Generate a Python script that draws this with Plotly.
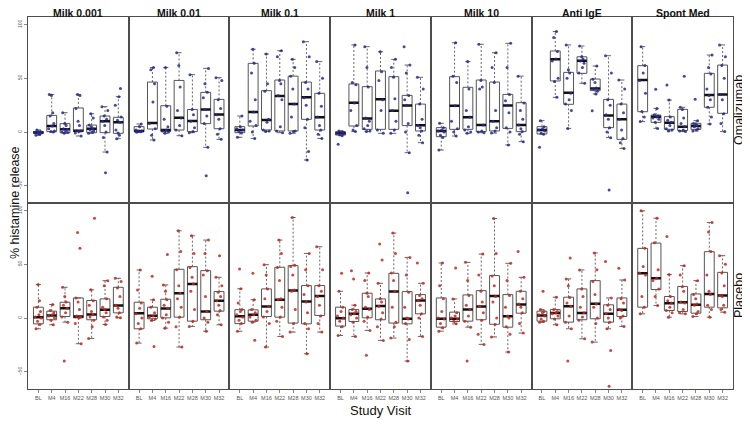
import plotly.graph_objects as go
from plotly.subplots import make_subplots

stimuli = ["Milk 0.001", "Milk 0.01", "Milk 0.1", "Milk 1", "Milk 10", "Anti IgE", "Spont Med"]
visits = ["BL", "M4", "M16", "M22", "M28", "M30", "M32"]
groups = ["Omalizumab", "Placebo"]

# box statistics, one row per stimulus, one value per visit (% histamine release)
oma_lower = [
    [-3, 0, -1.2, -3.7, -1.2, -18.6, -6.2],
    [-0.3, -7.4, -1.2, -3.4, -0.6, -14.2, -6.8],
    [-4.9, -5.9, 0.4, -0.6, -1.2, -26, -5.9],
    [-3.4, 0.4, 0.4, -1.2, -1.2, -19.2, -9.9],
    [-16.7, -3.7, -1.2, -0.6, -1, -12, -9],
    [-2, 32.3, 3.4, 45.3, 35.4, -5.2, -15.2],
    [9.7, 3.4, 1, 0.4, 1, 7.5, 0.4],
]
oma_q1 = [
    [-1.5, 0.4, -0.6, 0.4, -0.6, -0.6, -1.2],
    [0.4, 2.8, 0.4, 1.9, 0.4, 7.8, 3.1],
    [-0.6, 5.6, 1.9, 1, 1, 11.8, 1.9],
    [-2.8, 5.6, 2.5, 2.5, 2.5, 6, 1],
    [-4.3, 2.5, 2.5, 0.4, 1, 3.4, 0.4],
    [-1.8, 47.5, 25.8, 54.6, 38.5, 4.1, -6.8],
    [18.9, 9, 2.5, 1.3, 2.5, 23, 17.4],
]
oma_median = [
    [-0.5, 5.6, 2.5, 1.3, 3.1, 10, 9],
    [1, 8.4, 1.9, 13.4, 10.3, 21, 16.2],
    [1.9, 18.6, 11.2, 33.5, 26, 32.3, 13.7],
    [-1.2, 27.3, 12.7, 30.4, 19.9, 24.8, 6.2],
    [1, 24.5, 13.7, 6.5, 10, 24.8, 6.5],
    [1.9, 67.6, 36.6, 66.4, 40.6, 15.5, 11.8],
    [48.4, 14.3, 8.7, 5, 5.6, 34.5, 35],
]
oma_q3 = [
    [0.5, 15.5, 7.8, 22.4, 6.5, 14.9, 13.7],
    [5, 46.5, 24.5, 48, 21, 36.9, 30.4],
    [5, 63.9, 38.5, 48.4, 52, 46.5, 36],
    [0.4, 44.7, 42.2, 56.8, 51.5, 34.1, 26],
    [4.1, 51.5, 41.6, 48.4, 46.5, 35, 27.3],
    [5, 75.4, 55.5, 70, 49.3, 30.4, 26],
    [61.7, 15.8, 14.3, 21.1, 8.1, 54.6, 62.3],
]
oma_upper = [
    [2, 35, 18, 35, 17, 23.6, 32.9],
    [7.5, 60, 60, 73.8, 53.4, 59.2, 50.6],
    [14.9, 77, 72.6, 75.7, 67.6, 84, 65.5],
    [1, 81, 79.4, 74.7, 67.6, 62.3, 50.9],
    [8.1, 83.1, 65.5, 81.6, 73.8, 82.5, 52],
    [10.6, 93.4, 81, 80, 61.4, 71, 48.4],
    [79.4, 22, 29.8, 23, 10.6, 71.6, 81],
]

pla_lower = [
    [-10, -6.3, -3.8, -23.9, -19, -6, 0.2],
    [-23.3, -2.3, -9.4, -27, -7.8, -12.2, -6.3],
    [-12.3, -3.8, -27, -17.1, -13.1, -33.2, -13.1],
    [-16.2, -17.1, -11.5, -20.8, -18.6, -40, -17.1],
    [-12.2, -5.4, -8.5, -24.5, -17.6, -31.6, -14],
    [-4, -6.3, -10, -19.3, -22.4, -10, -7.8],
    [3.9, 11.6, 0.8, 3.9, 1.4, 0.8, 5.5],
]
pla_q1 = [
    [-5.4, -1.6, 1.4, 0.2, -1.6, 1.4, 4.8],
    [-10, -0.7, 0.2, 0.8, -2.9, -1.6, 6.4],
    [-5.2, -2.9, 1.4, 0.8, -4.7, -5.4, 2.4],
    [-7.5, -3.2, 0.2, -1.6, -4.7, -5.4, 3.9],
    [-8.5, -3.2, -2.9, -1.6, -5.8, -8.5, 4.5],
    [-2.9, -0.7, -3.8, -1.6, -0.7, -3.8, 1.4],
    [10.1, 26.5, 7, 6.1, 4.5, 10.1, 9.5],
]
pla_median = [
    [0.8, 2.4, 9.2, 1.4, 3.3, 7.6, 11.6],
    [4.5, 2.1, 8.9, 23.1, 31.7, 6.1, 16],
    [1.6, 3.1, 10.7, 16.9, 25.5, 15.3, 20.6],
    [-0.1, 3.9, 8.6, 11.3, 24.6, -0.7, 16.3],
    [-0.7, -0.7, 7.9, 10.7, 20.4, 1.7, 12.6],
    [2.4, 4.8, 11, 4.8, 13.2, 3.9, 7.6],
    [41.6, 37, 13.8, 14.7, 12.3, 22.4, 20.9],
]
pla_q3 = [
    [10.1, 6.4, 14.7, 18.7, 16.3, 17.8, 28.6],
    [14.7, 10.1, 17.5, 45.3, 47.8, 44.1, 24.6],
    [7.8, 7.6, 27.1, 47.2, 48.7, 30.2, 30.2],
    [10.1, 7.9, 23.1, 17.8, 41.6, 24.6, 21.8],
    [18.7, 5.5, 21.5, 25.5, 39.5, 21.8, 24.9],
    [6.4, 7.9, 19.4, 27.1, 34.8, 12.3, 18.7],
    [64.8, 69.7, 20, 29.3, 22.4, 61.7, 42.5],
]
pla_upper = [
    [31.1, 12.6, 28.6, 18.7, 26.2, 34.8, 37],
    [44.7, 16.9, 30.8, 81.2, 76.5, 72.5, 37.9],
    [27.2, 17, 49.6, 72.5, 93.5, 60.1, 66.3],
    [24.9, 12, 41.9, 32.3, 79, 56.4, 32.3],
    [51.2, 17.8, 51.8, 59.5, 92.6, 50.9, 37.9],
    [8, 19.4, 36.4, 44.7, 60.5, 18.7, 35.4],
    [99.7, 92.9, 40.4, 48.7, 34.8, 88.9, 58],
]

# individual subjects, per stimulus and visit
oma_points = [
    [[-3, -1.5, -1, -0.5, -0.5, 0, 0.5, 2, -2],
     [0, 0.5, 1, 3, 5.6, 8, 15, 18, 34, 35],
     [-1.2, -0.5, 0, 1, 2.5, 3, 6, 8, 18],
     [-3.7, -1, 0.5, 1, 1.3, 6, 10, 22, 34, 35],
     [-1.2, 0, 1, 2, 3, 5, 6.5, 13, 17],
     [-37.8, -18.6, -5, 0, 6, 10, 12, 15, 20, 23.6],
     [40.6, -6.2, -3, -1, 2, 9, 11, 14, 25, 32.9]],
    [[-0.3, 0.3, 0.8, 1, 2, 5, 7.5],
     [-7.4, -3, 3, 8, 28, 45, 58, 60],
     [-1.2, 0, 1, 2, 5, 12, 24, 60],
     [-3.4, 2, 6, 13, 20, 42, 62, 73.8],
     [-0.6, 0.5, 4, 10, 16, 21, 53.4],
     [-40.6, -14.2, 8, 15, 21, 32, 37, 45, 59.2],
     [-6.8, -2, 3, 12, 16, 22, 30, 48, 50.6]],
    [[-4.9, -1, 0.5, 2, 3, 5, 14.9],
     [-5.9, 0, 6, 10, 18.6, 30, 55, 64, 77],
     [0.4, 1, 2, 9, 12, 38, 45, 72.6],
     [-0.6, 1, 5, 30, 34, 45, 48, 70, 75.7],
     [-1.2, 0.5, 1, 14, 26, 40, 52, 60, 67.6],
     [-26, -18, 4, 12, 25, 32, 40, 46, 70, 84],
     [-5.9, -2, 2, 6, 14, 24, 36, 50, 65.5]],
    [[-11.4, -3.4, -2.5, -1.5, -1, 0, 0.3, 1],
     [0.4, 2, 6, 20, 27, 44, 46, 81],
     [0.4, 1, 3, 6, 10, 13, 42, 60, 79.4],
     [-1.2, 2, 20, 30, 48, 56, 74.7],
     [-1.2, 2, 10, 20, 31, 51, 60, 67.6],
     [-56.4, -19.2, 0, 8, 25, 30, 34, 55, 62.3, 79.4],
     [-9.9, -3, 1, 4, 6, 12, 26, 40, 50.9]],
    [[-16.7, -5, -3, 0, 1, 2, 4, 8.1],
     [-3.7, 0, 3, 10, 24.5, 46, 52, 83.1],
     [-1.2, 0, 2, 5, 14, 20, 40, 65.5],
     [-0.6, 0, 1, 6.5, 40, 42, 48, 81.6],
     [-1, 1, 4, 10, 20, 46, 60, 73.8],
     [-12, 0, 4, 18, 25, 29, 35, 60, 82.5],
     [-9, -2, 0.5, 3, 6.5, 12, 20, 27, 52]],
    [[-14.2, -2, -1, 1, 2, 3, 5, 10.6],
     [32.3, 47, 50, 66, 68, 75, 88, 93.4],
     [3.4, 20, 26, 30, 36, 50, 55, 58, 81],
     [45.3, 55, 60, 64, 66, 68, 70, 80],
     [19.9, 35.4, 38, 40, 41, 46, 49, 61.4],
     [-53.9, -5.2, 0, 4, 12, 16, 25, 30, 55, 71],
     [-15.2, -10, -6, 2, 12, 18, 26, 40, 48.4]],
    [[9.7, 14, 19, 36, 48, 55, 62, 79.4],
     [3.4, 9, 12, 13, 14, 15, 16, 22, 39.7],
     [1, 2, 3, 6, 9, 11, 14, 29.8, 43.8],
     [0.4, 1, 2, 5, 8, 13, 21, 23, 52],
     [1, 2, 3, 5, 6, 7, 8, 10.6, 30.4],
     [7.5, 14, 23, 30, 34, 40, 54, 60, 71.6],
     [0.4, 8, 17, 30, 35, 50, 62, 70, 81]],
]
pla_points = [
    [[-10, -6, -3, 0, 1, 3, 6, 10, 16, 31.1],
     [-6.3, -2, 0, 2, 3, 5, 7, 12.6],
     [-40, -3.8, 1, 5, 9, 12, 15, 20, 28.6],
     [-23.9, -5, 0, 1, 2, 8, 15, 18.7, 64.8, 79.6],
     [-19, -8, -2, 1, 3, 6, 12, 16, 26.2, 92.9],
     [-6, -2, 1, 5, 8, 10, 18, 30, 34.8],
     [0.2, 1, 5, 9, 12, 20, 28, 34, 37]],
    [[-23.3, -10, -5, 0, 4, 9, 14, 26, 44.7],
     [-26.4, -2.3, -1, 1, 2, 5, 10, 16.9, 38.8],
     [-9.4, -4, 0, 3, 9, 12, 17, 25, 30.8, 59.2],
     [-27, -8, 1, 10, 18, 23, 30, 45, 62, 81.2],
     [-7.8, -3, 8, 25, 32, 38, 47, 60, 76.5],
     [-12.2, -4, 0, 6, 20, 40, 44, 60, 72.5],
     [-6.3, 3, 7, 12, 16, 20, 24, 30, 37.9, 58]],
    [[-12.3, -5, -2, 1, 3, 6, 8, 14, 27.2, 45.7],
     [-20.6, -3.8, -2, 1, 3, 5, 8, 17, 41.7],
     [-27, -5, 1, 6, 11, 18, 27, 40, 49.6],
     [-17.1, -3, 1, 10, 17, 18, 35, 47, 60, 72.5],
     [-13.1, -5, 8, 25, 26, 40, 48, 49, 93.5],
     [-33.2, -10, -5, 5, 15, 22, 30, 45, 60.1],
     [-13.1, -5, 2, 12, 20, 25, 30, 45, 66.3]],
    [[-16.2, -8, -3, 0, 2, 6, 10, 24.9, 41.6],
     [-17.1, -4, 0, 3, 4, 6, 8, 12, 36.4, 44.1],
     [-34.7, -11.5, -3, 1, 8, 10, 20, 23, 35, 41.9],
     [-20.8, -8, -1, 5, 11, 15, 18, 32.3, 54, 68.8],
     [-18.6, -8, -4, 10, 25, 35, 42, 60, 79],
     [-40, -20, -5, -1, 0, 10, 24, 40, 56.4],
     [-17.1, 0, 4, 12, 16, 18, 21, 32.3, 51.2]],
    [[-12.2, -9, -5, -1, 0, 6, 18, 30, 51.2],
     [-5.4, -3, -1, 0, 2, 5, 17.8, 46.5],
     [-40, -8.5, -3, 2, 8, 12, 21, 35, 51.8],
     [-24.5, -15, -2, 5, 11, 15, 25, 40, 59.5],
     [-17.6, -6, 0, 15, 20, 30, 39, 60, 92.6],
     [-31.6, -15, -8, 0, 2, 10, 21, 35, 50.9],
     [-14, -5, 5, 10, 13, 18, 25, 37.9, 62]],
    [[-4, -3, -1, 2, 3, 5, 6, 8, 24.9],
     [-6.3, -1, 2, 4, 5, 6, 8, 19.4],
     [-40, -10, -4, 2, 11, 14, 19, 30, 36.4, 55.8],
     [-19.3, -2, 1, 5, 10, 20, 27, 44.7],
     [-22.4, -5, 0, 10, 13, 22, 34, 45, 60.5],
     [-63.5, -30.1, -10, -4, 0, 4, 8, 12, 18.7, 52.7],
     [-7.8, 0, 2, 7, 8, 14, 18, 35.4, 46.2]],
    [[3.9, 10, 20, 40, 42, 48, 65, 99.7],
     [11.6, 20, 27, 35, 37, 45, 70, 92.9],
     [0.8, 5, 7, 10, 14, 16, 20, 40.4, 75.9],
     [3.9, 5, 8, 14, 15, 25, 29, 40, 48.7],
     [1.4, 4, 6, 12, 13, 18, 22, 34.8],
     [0.8, 8, 12, 22, 25, 40, 62, 80, 88.9],
     [5.5, 8, 12, 20, 21, 30, 42, 50, 58]],
]

BOX_HALF = 0.37
CAP_HALF = 0.19
JITTER = [-0.18, 0.12, -0.06, 0.21, -0.23, 0.04, 0.16, -0.12, 0.08, -0.02]
FONT = "Liberation Sans, Arial, sans-serif"
FRAME = "#4d4d4d"
# the page body keeps its default 8px margin, so the figure is drawn 8px smaller
PAGE_OFFSET = 8

group_data = [
    (oma_lower, oma_q1, oma_median, oma_q3, oma_upper, oma_points, "#262a8c"),
    (pla_lower, pla_q1, pla_median, pla_q3, pla_upper, pla_points, "#c0281e"),
]

fig = make_subplots(rows=2, cols=7, horizontal_spacing=0, vertical_spacing=0)

for r, (lo, q1, med, q3, hi, pts, colour) in enumerate(group_data):
    for c in range(len(stimuli)):
        wx, wy, cx, cy, bx, by, mx, my, px, py = [], [], [], [], [], [], [], [], [], []
        for i in range(len(visits)):
            x = i + 1
            wx += [x, x, None, x, x, None]
            wy += [q3[c][i], hi[c][i], None, q1[c][i], lo[c][i], None]
            cx += [x - CAP_HALF, x + CAP_HALF, None, x - CAP_HALF, x + CAP_HALF, None]
            cy += [hi[c][i], hi[c][i], None, lo[c][i], lo[c][i], None]
            bx += [x - BOX_HALF, x + BOX_HALF, x + BOX_HALF, x - BOX_HALF, x - BOX_HALF, None]
            by += [q1[c][i], q1[c][i], q3[c][i], q3[c][i], q1[c][i], None]
            mx += [x - BOX_HALF, x + BOX_HALF, None]
            my += [med[c][i], med[c][i], None]
            for k, v in enumerate(pts[c][i]):
                px.append(x + JITTER[(k + i) % len(JITTER)])
                py.append(v)
        row, col = r + 1, c + 1
        fig.add_trace(go.Scatter(x=wx, y=wy, mode="lines", hoverinfo="skip",
                                 line=dict(color="#666666", width=1, dash="2px,2px")), row=row, col=col)
        fig.add_trace(go.Scatter(x=cx, y=cy, mode="lines", hoverinfo="skip",
                                 line=dict(color="#666666", width=1)), row=row, col=col)
        fig.add_trace(go.Scatter(x=bx, y=by, mode="lines", hoverinfo="skip",
                                 line=dict(color="#555555", width=1)), row=row, col=col)
        fig.add_trace(go.Scatter(x=mx, y=my, mode="lines", hoverinfo="skip",
                                 line=dict(color="#111111", width=2.5)), row=row, col=col)
        fig.add_trace(go.Scatter(x=px, y=py, mode="markers",
                                 marker=dict(color=colour, size=3, opacity=0.85)), row=row, col=col)

        fig.update_xaxes(range=[0.22, 7.78], tickvals=list(range(1, 8)), ticktext=visits,
                         showticklabels=(r == 1), ticks="outside" if r == 1 else "",
                         ticklen=3, tickcolor="#888888", tickfont=dict(size=5.5, color="#555555"),
                         showgrid=False, zeroline=False, showline=True, mirror=True,
                         linecolor=FRAME, linewidth=1, row=row, col=col)
        fig.update_yaxes(range=[-66, 107], tickvals=[-50, 0, 50, 100],
                         showticklabels=(c == 0), ticks="outside" if c == 0 else "",
                         ticklen=3, tickcolor="#888888", tickangle=-90,
                         tickfont=dict(size=5, color="#555555"),
                         showgrid=False, zeroline=False, showline=True, mirror=True,
                         linecolor=FRAME, linewidth=1, row=row, col=col)

annotations = []
for c, name in enumerate(stimuli):
    xref = "x domain" if c == 0 else "x%d domain" % (c + 1)
    annotations.append(dict(text="<b>%s</b>" % name, x=0.5, y=1, xref=xref,
                            yref="paper", yanchor="bottom", yshift=-4.5, showarrow=False,
                            font=dict(size=10.5, color="#111111")))
# strip labels on the right, centred on each row (rows split the paper height in half)
for r, name in enumerate(groups):
    annotations.append(dict(text=name, x=1, y=0.75 - 0.5 * r, xref="paper", yref="paper",
                            xanchor="center", yanchor="middle", xshift=6, textangle=-90,
                            showarrow=False, font=dict(size=12.5, color="#111111")))
annotations.append(dict(text="Study Visit", x=0.5, y=0, xref="paper", yref="paper",
                        yanchor="top", yshift=-12, showarrow=False,
                        font=dict(size=13, color="#111111")))
annotations.append(dict(text="% histamine release", x=0, y=0.5, xref="paper", yref="paper",
                        xanchor="center", xshift=-13, textangle=-90, showarrow=False,
                        font=dict(size=12.5, color="#111111")))

fig.update_layout(
    width=750 - PAGE_OFFSET, height=425 - PAGE_OFFSET,
    margin=dict(l=28 - PAGE_OFFSET, r=17, t=17 - PAGE_OFFSET, b=36),
    paper_bgcolor="white", plot_bgcolor="white",
    font=dict(family=FONT, color="#222222"),
    showlegend=False,
    annotations=annotations,
)

fig.write_html("out.html")
